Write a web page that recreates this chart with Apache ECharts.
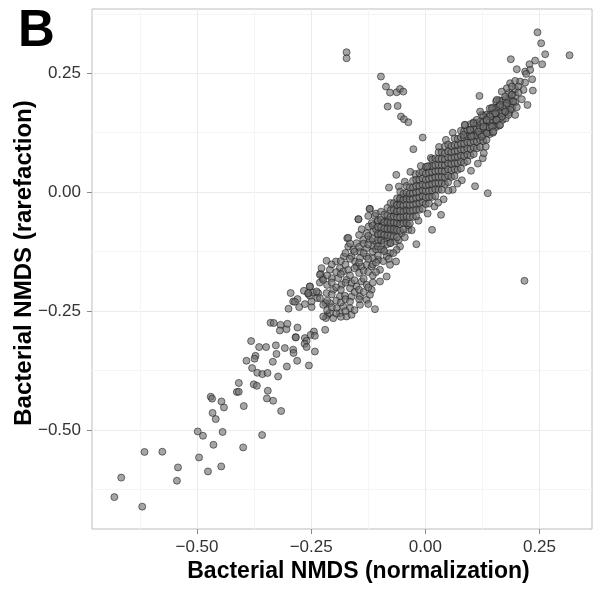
<!DOCTYPE html>
<html>
<head>
<meta charset="utf-8">
<script src="https://cdn.jsdelivr.net/npm/echarts@6/dist/echarts.min.js"></script>
<style>
html,body{margin:0;padding:0;background:#fff;}
#chart{width:597px;height:592px;}
</style>
</head>
<body>
<div id="chart"></div>
<script>
// Axis ticks
const majorTicks = [-0.5, -0.25, 0, 0.25];
const minorTicksX = [-0.625, -0.375, -0.125, 0.125];
const minorTicksY = [-0.625, -0.375, -0.125, 0.125, 0.375];

// Sparse lower-left tail
const tailPoints = [
  [-0.4085,-0.401],[-0.4128,-0.420],[-0.4086,-0.4195],[-0.3757,-0.404],[-0.369,-0.407],
  [-0.470,-0.430],[-0.467,-0.434],[-0.4465,-0.440],[-0.441,-0.4525],[-0.3976,-0.4496],
  [-0.466,-0.464],[-0.459,-0.477],[-0.4985,-0.503],[-0.487,-0.512],[-0.444,-0.504],
  [-0.464,-0.531],[-0.399,-0.5365],[-0.615,-0.546],[-0.576,-0.5456],[-0.4956,-0.5576],
  [-0.5417,-0.5786],[-0.447,-0.5765],[-0.476,-0.587],[-0.666,-0.600],[-0.544,-0.6065],
  [-0.681,-0.641],[-0.620,-0.661],[-0.3575,-0.5105]
];

// Lower middle part of the band
const lowerPoints = [
  [-0.295,-0.212],[-0.2895,-0.2298],[-0.280,-0.2248],[-0.2996,-0.245],[-0.339,-0.2746],
  [-0.332,-0.275],[-0.317,-0.279],[-0.3186,-0.2908],[-0.304,-0.288],[-0.302,-0.2767],
  [-0.280,-0.2845],[-0.3816,-0.313],[-0.364,-0.3256],[-0.3487,-0.3256],[-0.3274,-0.322],
  [-0.3077,-0.3277],[-0.2895,-0.331],[-0.2886,-0.338],[-0.284,-0.3046],[-0.326,-0.340],
  [-0.372,-0.344],[-0.374,-0.350],[-0.3917,-0.3544],[-0.334,-0.3565],[-0.2807,-0.3544],
  [-0.3794,-0.3697],[-0.368,-0.3796],[-0.357,-0.3824],[-0.3456,-0.380],[-0.3033,-0.3664],
  [-0.3224,-0.3874],[-0.345,-0.4174],[-0.347,-0.4336],[-0.3333,-0.4384],[-0.3158,-0.460],
  [-0.231,-0.190],[-0.225,-0.1807],[-0.2294,-0.1716],[-0.2528,-0.1983],[-0.266,-0.2074],
  [-0.2566,-0.2137],[-0.2528,-0.2178],[-0.2456,-0.211],[-0.2346,-0.2122],[-0.2368,-0.2227],
  [-0.2857,-0.2305],[-0.2763,-0.2416],[-0.2638,-0.2353],[-0.249,-0.2416],[-0.2184,-0.2332],
  [-0.214,-0.2578],[-0.2178,-0.2647],[-0.2193,-0.2893],[-0.244,-0.2929],[-0.2513,-0.300],
  [-0.2419,-0.302],[-0.2638,-0.3067],[-0.260,-0.3124],[-0.2645,-0.3187],[-0.2836,-0.3055],
  [-0.260,-0.3256],[-0.2419,-0.3349],[-0.255,-0.3643]
];

// Band between -0.23 and -0.04
const midPoints = [
  [-0.1213,-0.0351],[-0.111,-0.0498],[-0.1052,-0.0617],[-0.1468,-0.0568],[-0.1176,-0.0652],
  [-0.1242,-0.0722],[-0.092,-0.0631],[-0.0803,-0.0582],[-0.0774,-0.0722],[-0.0884,-0.0792],
  [-0.0701,-0.0827],[-0.0628,-0.0652],[-0.0664,-0.0442],[-0.0628,-0.0267],[-0.0555,-0.0162],
  [-0.0408,-0.0092],[-0.0445,-0.0372],[-0.0482,-0.0582],[-0.0518,-0.0862],[-0.0372,-0.0792],
  [-0.1395,-0.0778],[-0.1286,-0.0862],[-0.114,-0.0827],[-0.103,-0.0897],[-0.1213,-0.1002],
  [-0.1067,-0.1072],[-0.0957,-0.1002],[-0.0847,-0.0967],[-0.0774,-0.1072],[-0.0664,-0.1037],
  [-0.0555,-0.1142],[-0.0628,-0.1212],[-0.0774,-0.1282],[-0.092,-0.1212],[-0.171,-0.0967],
  [-0.1688,-0.1142],[-0.1505,-0.1072],[-0.1359,-0.1002],[-0.1578,-0.1212],[-0.1432,-0.1247],
  [-0.1286,-0.1177],[-0.114,-0.1142],[-0.1783,-0.1352],[-0.1615,-0.1352],[-0.1542,-0.1457],
  [-0.1432,-0.1387],[-0.1286,-0.1352],[-0.114,-0.1387],[-0.103,-0.1422],[-0.0847,-0.1352],
  [-0.0774,-0.1527],[-0.0642,-0.1457],[-0.2163,-0.1443],[-0.1958,-0.1457],[-0.2273,-0.1597],
  [-0.209,-0.1632],[-0.1871,-0.1597],[-0.1797,-0.1667],[-0.1688,-0.1632],[-0.1505,-0.1562],
  [-0.1395,-0.1562],[-0.1286,-0.1527],[-0.1176,-0.1562],[-0.0993,-0.1632],[-0.0847,-0.1772],
  [-0.0993,-0.1877],[-0.2309,-0.1737],[-0.2236,-0.1842],[-0.2053,-0.1807],[-0.1907,-0.1807],
  [-0.1834,-0.1947],[-0.1724,-0.1842],[-0.1615,-0.1912],[-0.1505,-0.1982],[-0.1395,-0.1877],
  [-0.1286,-0.1947],[-0.1176,-0.2052],[-0.2528,-0.1982],[-0.2565,-0.2122],[-0.2382,-0.2087],
  [-0.2163,-0.2122],[-0.2017,-0.2052],[-0.1871,-0.2192],[-0.1761,-0.2178],[-0.1615,-0.2192],
  [-0.1432,-0.2192],[-0.1286,-0.2262],[-0.1213,-0.2157],[-0.1432,-0.2368],[-0.1103,-0.2459],
  [-0.2492,-0.2298],[-0.2309,-0.2228],[-0.2236,-0.2368],[-0.209,-0.2333],[-0.1943,-0.2438],
  [-0.1797,-0.2403],[-0.165,-0.2438],[-0.2236,-0.2613],[-0.209,-0.2543],[-0.2017,-0.2648],
  [-0.1871,-0.2543],[-0.1724,-0.2613],[-0.1615,-0.2578]
];

// Extra density in the lower-middle band
const midExtraPoints = [
  [-0.215,-0.175],[-0.215,-0.195],[-0.215,-0.228],[-0.215,-0.248],
  [-0.205,-0.152],[-0.205,-0.190],[-0.205,-0.215],[-0.205,-0.242],
  [-0.195,-0.168],[-0.195,-0.200],[-0.195,-0.228],[-0.195,-0.255],
  [-0.185,-0.145],[-0.185,-0.172],[-0.185,-0.205],[-0.185,-0.232],[-0.185,-0.262],
  [-0.175,-0.128],[-0.175,-0.152],[-0.175,-0.190],[-0.175,-0.225],[-0.175,-0.250],
  [-0.165,-0.108],[-0.165,-0.140],[-0.165,-0.175],[-0.165,-0.202],[-0.165,-0.230],
  [-0.155,-0.125],[-0.155,-0.160],[-0.155,-0.185],[-0.155,-0.210],[-0.155,-0.248],
  [-0.145,-0.090],[-0.145,-0.115],[-0.145,-0.148],[-0.145,-0.170],[-0.145,-0.205],[-0.145,-0.225],
  [-0.135,-0.108],[-0.135,-0.128],[-0.135,-0.165],[-0.135,-0.182],[-0.135,-0.210],
  [-0.125,-0.050],[-0.125,-0.092],[-0.125,-0.110],[-0.125,-0.140],[-0.125,-0.168],[-0.125,-0.200],[-0.125,-0.235],
  [-0.115,-0.070],[-0.115,-0.098],[-0.115,-0.125],[-0.115,-0.152],[-0.115,-0.175],[-0.115,-0.190],
  [-0.108,-0.045],[-0.108,-0.078],[-0.108,-0.120],[-0.108,-0.148],[-0.108,-0.168],
  [-0.092,-0.145],[-0.080,-0.140],[-0.070,-0.128],[-0.058,-0.100],[-0.045,-0.095],[-0.038,-0.070],
  [-0.058,0.012],[-0.045,0.022],[-0.022,0.038],[-0.010,0.055],[0.012,0.072],[0.030,0.095],
  [0.045,0.110],[0.060,0.125],
  [0.005,-0.045],[0.020,-0.030],[0.040,-0.015],[0.060,0.005],[0.080,0.025],[0.100,0.045],
  [0.115,0.060],[-0.015,-0.060],[-0.030,-0.080],[0.028,-0.022],[0.070,0.018]
];

// Dense core of the band
const corePoints = [
  [-0.104,-0.133],[-0.104,-0.114],[-0.104,-0.100],[-0.104,-0.088],[-0.104,-0.073],[-0.104,-0.059],
  [-0.097,-0.120],[-0.097,-0.101],[-0.097,-0.088],[-0.097,-0.074],[-0.097,-0.058],[-0.097,-0.041],
  [-0.090,-0.124],[-0.090,-0.105],[-0.090,-0.090],[-0.090,-0.076],[-0.090,-0.063],[-0.090,-0.047],
  [-0.083,-0.109],[-0.083,-0.091],[-0.083,-0.077],[-0.083,-0.063],[-0.083,-0.049],[-0.083,-0.033],
  [-0.076,-0.107],[-0.076,-0.092],[-0.076,-0.077],[-0.076,-0.064],[-0.076,-0.052],[-0.076,-0.038],[-0.076,-0.023],
  [-0.069,-0.093],[-0.069,-0.078],[-0.069,-0.064],[-0.069,-0.051],[-0.069,-0.038],[-0.069,-0.023],
  [-0.062,-0.095],[-0.062,-0.080],[-0.062,-0.065],[-0.062,-0.053],[-0.062,-0.040],[-0.062,-0.027],[-0.062,-0.013],
  [-0.055,-0.081],[-0.055,-0.067],[-0.055,-0.053],[-0.055,-0.039],[-0.055,-0.026],[-0.055,-0.013],[-0.055,0.001],
  [-0.048,-0.078],[-0.048,-0.065],[-0.048,-0.052],[-0.048,-0.040],[-0.048,-0.028],[-0.048,-0.016],[-0.048,-0.003],
  [-0.041,-0.065],[-0.041,-0.051],[-0.041,-0.038],[-0.041,-0.026],[-0.041,-0.014],[-0.041,-0.001],[-0.041,0.013],
  [-0.034,-0.066],[-0.034,-0.052],[-0.034,-0.039],[-0.034,-0.027],[-0.034,-0.015],[-0.034,-0.003],[-0.034,0.010],
  [-0.027,-0.052],[-0.027,-0.038],[-0.027,-0.026],[-0.027,-0.014],[-0.027,-0.002],[-0.027,0.010],[-0.027,0.024],
  [-0.020,-0.051],[-0.020,-0.037],[-0.020,-0.024],[-0.020,-0.012],[-0.020,0.000],[-0.020,0.013],[-0.020,0.026],
  [-0.013,-0.037],[-0.013,-0.023],[-0.013,-0.011],[-0.013,0.001],[-0.013,0.013],[-0.013,0.026],[-0.013,0.040],
  [-0.006,-0.035],[-0.006,-0.021],[-0.006,-0.008],[-0.006,0.004],[-0.006,0.016],[-0.006,0.029],[-0.006,0.042],
  [0.001,-0.025],[0.001,-0.011],[0.001,0.002],[0.001,0.014],[0.001,0.026],[0.001,0.039],[0.001,0.053],
  [0.008,-0.024],[0.008,-0.010],[0.008,0.003],[0.008,0.016],[0.008,0.028],[0.008,0.041],[0.008,0.055],
  [0.015,-0.010],[0.015,0.004],[0.015,0.017],[0.015,0.030],[0.015,0.042],[0.015,0.055],[0.015,0.069],
  [0.022,-0.008],[0.022,0.006],[0.022,0.019],[0.022,0.032],[0.022,0.044],[0.022,0.057],[0.022,0.071],
  [0.029,0.005],[0.029,0.019],[0.029,0.032],[0.029,0.045],[0.029,0.057],[0.029,0.070],[0.029,0.084],
  [0.036,0.005],[0.036,0.019],[0.036,0.032],[0.036,0.045],[0.036,0.057],[0.036,0.070],[0.036,0.084],
  [0.043,0.017],[0.043,0.031],[0.043,0.044],[0.043,0.057],[0.043,0.069],[0.043,0.082],[0.043,0.096],
  [0.050,0.021],[0.050,0.035],[0.050,0.048],[0.050,0.061],[0.050,0.073],[0.050,0.086],[0.050,0.100],
  [0.057,0.032],[0.057,0.046],[0.057,0.059],[0.057,0.072],[0.057,0.084],[0.057,0.097],
  [0.064,0.034],[0.064,0.048],[0.064,0.061],[0.064,0.074],[0.064,0.086],[0.064,0.099],[0.064,0.113],
  [0.071,0.047],[0.071,0.061],[0.071,0.074],[0.071,0.087],[0.071,0.099],[0.071,0.112],
  [0.078,0.050],[0.078,0.064],[0.078,0.077],[0.078,0.090],[0.078,0.102],[0.078,0.115],[0.078,0.129],
  [0.085,0.062],[0.085,0.076],[0.085,0.089],[0.085,0.102],[0.085,0.115],[0.085,0.128],
  [0.092,0.065],[0.092,0.079],[0.092,0.092],[0.092,0.105],[0.092,0.118],[0.092,0.131],
  [0.099,0.077],[0.099,0.091],[0.099,0.104],[0.099,0.117],[0.099,0.130],[0.099,0.143],
  [0.106,0.080],[0.106,0.094],[0.106,0.107],[0.106,0.120],[0.106,0.133],[0.106,0.147],
  [0.113,0.092],[0.113,0.106],[0.113,0.119],[0.113,0.132],[0.113,0.145],
  [0.120,0.095],[0.120,0.109],[0.120,0.122],[0.120,0.135],[0.120,0.148],
  [0.127,0.107],[0.127,0.121],[0.127,0.134],[0.127,0.147],[0.127,0.161],
  [0.134,0.110],[0.134,0.124],[0.134,0.137],[0.134,0.150],[0.134,0.163],
  [0.141,0.122],[0.141,0.136],[0.141,0.149],[0.141,0.162],[0.141,0.176],
  [0.148,0.125],[0.148,0.139],[0.148,0.152],[0.148,0.165],[0.148,0.178],
  [0.155,0.137],[0.155,0.151],[0.155,0.164],[0.155,0.177],[0.155,0.191],
  [0.162,0.140],[0.162,0.154],[0.162,0.167],[0.162,0.180],[0.162,0.193],
  [0.169,0.152],[0.169,0.166],[0.169,0.179],[0.169,0.192],
  [0.176,0.155],[0.176,0.169],[0.176,0.182],[0.176,0.196],
  [0.183,0.167],[0.183,0.181],[0.183,0.195],[0.183,0.209],
  [0.190,0.177],[0.190,0.191],[0.190,0.205],
  [0.197,0.189],[0.197,0.203],[0.197,0.217]
];

// Upper right end of the band
const upperPoints = [
  [0.2456,0.336],[0.2537,0.313],[0.2625,0.2899],[0.3158,0.2878],[0.1872,0.2794],
  [0.2281,0.2689],[0.2405,0.2766],[0.2559,0.2689],[0.2003,0.2584],[0.2186,0.2535],
  [0.2296,0.2570],[0.2208,0.2486],[0.234,0.2373],[0.1857,0.229],[0.1967,0.2338],
  [0.2076,0.2324],[0.2186,0.2303],[0.1784,0.2184],[0.1894,0.222],[0.204,0.222],
  [0.215,0.215],[0.2354,0.2135],[0.1185,0.2023],[0.1674,0.2114],[0.1747,0.201],
  [0.1894,0.2044],[0.204,0.2093],[0.2113,0.1953],[0.2237,0.1834],[0.1565,0.194],
  [0.1638,0.1834],[0.1784,0.187],[0.193,0.1905],[0.2003,0.1785],[0.1857,0.173],
  [0.1967,0.1624],[0.1821,0.1624],[0.1455,0.1764],[0.1528,0.1659],[0.1418,0.1589],
  [0.1674,0.1589],[0.1747,0.1694],[0.1565,0.152],[0.1345,0.152],[0.1236,0.1624],
  [0.1199,0.1694],[0.1126,0.152],[0.1053,0.1449],[0.1272,0.1379],[0.1455,0.1379],
  [0.1638,0.1414],[0.087,0.1414],[0.098,0.1309],[0.1163,0.1274],[0.1345,0.1239],
  [0.1492,0.1274],[0.0834,0.1204],[0.1016,0.1169],[0.1236,0.1169]
];

// Scattered points away from the band
const scatterPoints = [
  [-0.1725,0.2941],[-0.1725,0.2815],[-0.0972,0.243],[-0.0862,0.222],[-0.0774,0.2093],
  [-0.0628,0.21],[-0.0555,0.217],[-0.0482,0.2114],[-0.0825,0.1799],[-0.0606,0.1813],
  [-0.0533,0.159],[-0.0467,0.1533],[-0.0372,0.147],[-0.0058,0.1148],[-0.0262,0.0904],
  [0.2171,-0.1863],[-0.0636,0.0364],[-0.0329,0.0427],[-0.0796,0.0097],[0.0044,0.054],
  [0.0505,0.0034],[0.1089,0.0125],[0.1367,-0.0022],[0.0344,-0.0477],[0.0147,-0.0792],
  [-0.0197,-0.1093],[-0.1221,-0.035],[-0.1462,-0.0568],[-0.1688,-0.096],[0.0863,0.1414],
  [0.1258,0.0714],[0.128,0.0819],[0.1323,0.0959]
];

const allPoints = [].concat(tailPoints, lowerPoints, midPoints, midExtraPoints, corePoints, upperPoints, scatterPoints);

const FONT = '"Liberation Sans", Arial, Helvetica, sans-serif';
const fmt = v => (v < 0 ? '\u2212' : '') + Math.abs(v).toFixed(2);

const chart = echarts.init(document.getElementById('chart'), null, {renderer: 'canvas'});
chart.setOption({
  animation: false,
  backgroundColor: '#ffffff',
  title: {
    text: 'B', left: 13, top: 1,
    textStyle: {fontFamily: FONT, fontSize: 51, fontWeight: 'bold', color: '#000'}
  },
  grid: {
    left: 92, top: 9, width: 500, height: 520,
    containLabel: false, outerBoundsMode: 'none',
    show: true, borderColor: '#bdbdbd', borderWidth: 1, backgroundColor: '#fff'
  },
  xAxis: [{
    type: 'value', min: -0.73, max: 0.365,
    name: 'Bacterial NMDS (normalization)', nameLocation: 'middle', nameGap: 31, nameMoveOverlap: false,
    nameTextStyle: {fontFamily: FONT, fontSize: 23, fontWeight: 'bold', color: '#000', padding: [0, 0, 0, 33]},
    axisLine: {show: false, onZero: false},
    axisTick: {show: true, length: 5, customValues: majorTicks, lineStyle: {color: '#8a8a8a'}},
    axisLabel: {customValues: majorTicks, formatter: fmt, margin: 10, fontFamily: FONT, fontSize: 17, color: '#333'},
    splitLine: {show: true, lineStyle: {color: '#ebebeb', width: 1}}
  }, {
    type: 'value', min: -0.73, max: 0.365, position: 'bottom',
    axisLine: {show: false, onZero: false}, axisLabel: {show: false},
    axisTick: {show: false, customValues: minorTicksX},
    splitLine: {show: true, lineStyle: {color: '#f5f5f5', width: 1}}
  }],
  yAxis: [{
    type: 'value', min: -0.708, max: 0.385,
    name: 'Bacterial NMDS (rarefaction)', nameLocation: 'middle', nameGap: 56, nameMoveOverlap: false,
    nameTextStyle: {fontFamily: FONT, fontSize: 24, fontWeight: 'bold', color: '#000', padding: [0, 0, 0, 12]},
    axisLine: {show: false, onZero: false},
    axisTick: {show: true, length: 5, customValues: majorTicks, lineStyle: {color: '#8a8a8a'}},
    axisLabel: {customValues: majorTicks, formatter: fmt, margin: 11, fontFamily: FONT, fontSize: 17, color: '#333'},
    splitLine: {show: true, lineStyle: {color: '#ebebeb', width: 1}}
  }, {
    type: 'value', min: -0.708, max: 0.385, position: 'left',
    axisLine: {show: false, onZero: false}, axisLabel: {show: false},
    axisTick: {show: false, customValues: minorTicksY},
    splitLine: {show: true, lineStyle: {color: '#f5f5f5', width: 1}}
  }],
  series: [{
    type: 'scatter',
    xAxisIndex: 0, yAxisIndex: 0,
    data: allPoints,
    symbol: 'circle',
    symbolSize: 7,
    itemStyle: {color: 'rgba(110,110,110,0.62)', borderColor: 'rgba(25,25,25,0.72)', borderWidth: 0.8, opacity: 1}
  }]
});
</script>
</body>
</html>
